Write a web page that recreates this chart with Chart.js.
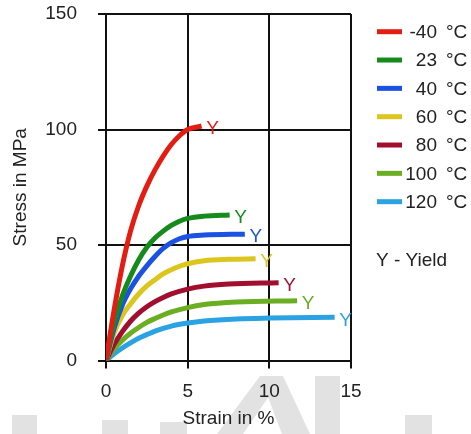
<!DOCTYPE html>
<html>
<head>
<meta charset="utf-8">
<script src="https://cdn.jsdelivr.net/npm/chart.js@4.4.1/dist/chart.umd.min.js"></script>
<style>
  body { margin: 0; background: #fff; }
  canvas { display: block; }
</style>
</head>
<body>
<canvas id="grafico" width="471" height="434"></canvas>
<script>
// Datos: deformación (%) y tensión (MPa) por temperatura
const temperaturas = ["-40", "23", "40", "60", "80", "100", "120"];
const colores = ["#e41d13", "#168a1c", "#1b52e2", "#dcc51c", "#a20f2e", "#6cae22", "#2ba2e2"];

const strainM40 = [0, 0.5, 1.0, 1.5, 2.0, 2.5, 3.0, 3.5, 4.0, 4.5, 5.0, 5.85];
const stressM40 = [0, 22, 41, 56, 67, 75.5, 82.5, 88.5, 93.5, 97.3, 100, 101.5];

const strain23 = [0, 0.5, 1.0, 1.5, 2.0, 2.5, 3.0, 3.5, 4.0, 4.5, 5.0, 6.0, 7.57];
const stress23 = [0, 16.5, 28, 36.5, 43.5, 49, 53, 56, 58.5, 60.3, 61.5, 62.5, 63];

const strain40 = [0, 0.5, 1.0, 1.5, 2.0, 2.5, 3.0, 3.5, 4.0, 4.5, 5.0, 6.0, 8.5];
const stress40 = [0, 14, 24, 31, 36.5, 41, 45, 48.5, 51, 52.7, 53.7, 54.3, 54.7];

const strain60 = [0, 0.5, 1.0, 1.5, 2.0, 2.5, 3.0, 3.5, 4.0, 4.5, 5.0, 6.0, 7.5, 9.16];
const stress60 = [0, 12, 19.5, 24.5, 28.8, 32.3, 35, 37.5, 39.3, 40.8, 41.9, 43.2, 43.8, 44];

const strain80 = [0, 0.5, 1.0, 1.5, 2.0, 2.5, 3.0, 3.5, 4.0, 5.0, 6.0, 7.5, 10.57];
const stress80 = [0, 7, 12.5, 17, 20.5, 23.3, 25.5, 27.3, 28.8, 30.9, 32.2, 33.1, 33.7];

const strain100 = [0, 0.5, 1.0, 1.5, 2.0, 2.5, 3.0, 3.5, 4.0, 5.0, 6.0, 8.0, 11.7];
const stress100 = [0, 5, 8.8, 11.8, 14.3, 16.5, 18.2, 19.7, 21, 22.9, 24.2, 25.3, 25.9];

const strain120 = [0, 0.5, 1.0, 1.5, 2.0, 2.5, 3.0, 3.5, 4.0, 5.0, 6.0, 8.0, 10, 14];
const stress120 = [0, 2.9, 5.4, 7.6, 9.6, 11.2, 12.7, 13.9, 14.9, 16.2, 17.1, 18, 18.35, 18.7];

const strainTicks = [0, 5, 10, 15];
const stressTicks = [0, 50, 100, 150];

const series = [
  [strainM40, stressM40],
  [strain23, stress23],
  [strain40, stress40],
  [strain60, stress60],
  [strain80, stress80],
  [strain100, stress100],
  [strain120, stress120],
];

const fuente = "'Liberation Sans', Arial, sans-serif";
const tamano = 19;

// Marca de agua gris de la imagen original (decorativa)
const marcaAgua = {
  id: "marcaAgua",
  beforeDraw(chart) {
    const ctx = chart.ctx;
    ctx.save();
    ctx.fillStyle = "#e2e2e2";
    ctx.fillRect(12, 415, 25, 19);
    ctx.fillRect(102, 420, 26, 14);
    ctx.fillRect(160, 422, 27, 12);
    ctx.fillRect(315, 376, 25, 58);
    ctx.fillRect(405, 415, 27, 19);
    ctx.beginPath();
    ctx.moveTo(260, 376); ctx.lineTo(283, 376); ctx.lineTo(243, 434); ctx.lineTo(217, 434);
    ctx.closePath(); ctx.fill();
    ctx.beginPath();
    ctx.moveTo(260, 376); ctx.lineTo(283, 376); ctx.lineTo(310, 434); ctx.lineTo(282, 434);
    ctx.closePath(); ctx.fill();
    ctx.restore();
  },
};

// Letra "Y" (yield) al final de cada curva
const etiquetasYield = {
  id: "etiquetasYield",
  afterDatasetsDraw(chart) {
    const ctx = chart.ctx;
    const sx = chart.scales.x, sy = chart.scales.y;
    ctx.save();
    ctx.font = tamano + "px " + fuente;
    ctx.textAlign = "center";
    ctx.textBaseline = "middle";
    series.forEach(([xs, ys], i) => {
      const px = sx.getPixelForValue(xs[xs.length - 1]);
      const py = sy.getPixelForValue(ys[ys.length - 1]);
      ctx.fillStyle = colores[i];
      ctx.fillText("Y", px + 11, py + 3);
    });
    ctx.restore();
  },
};

// Leyenda a la derecha
const leyenda = {
  id: "leyenda",
  afterDraw(chart) {
    const ctx = chart.ctx;
    ctx.save();
    ctx.font = tamano + "px " + fuente;
    ctx.textBaseline = "middle";
    chart.data.datasets.forEach((ds, i) => {
      const y = 31.7 + i * 28.33;
      ctx.strokeStyle = ds.borderColor;
      ctx.lineWidth = 5;
      ctx.beginPath();
      ctx.moveTo(377, y);
      ctx.lineTo(402, y);
      ctx.stroke();
      ctx.fillStyle = "#222";
      ctx.textAlign = "right";
      ctx.fillText(temperaturas[i], 437, y + 1);
      ctx.textAlign = "left";
      ctx.fillText("°C", 446, y + 1);
    });
    ctx.textAlign = "left";
    ctx.fillText("Y - Yield", 376, 261);
    ctx.restore();
  },
};

new Chart(document.getElementById("grafico"), {
  type: "scatter",
  data: {
    datasets: series.map(([xs, ys], i) => ({
      label: temperaturas[i] + " °C",
      data: xs.map((x, j) => ({ x: x, y: ys[j] })),
      showLine: true,
      borderColor: colores[i],
      backgroundColor: colores[i],
      borderWidth: 5,
      pointRadius: 0,
      cubicInterpolationMode: "monotone",
    })),
  },
  options: {
    responsive: false,
    animation: false,
    devicePixelRatio: 1,
    layout: { padding: { left: 0, right: 120, top: 14, bottom: 0 } },
    plugins: {
      legend: { display: false },
      tooltip: { enabled: false },
    },
    scales: {
      x: {
        type: "linear",
        min: 0,
        max: 15,
        afterBuildTicks: (s) => { s.ticks = strainTicks.map((v) => ({ value: v })); },
        afterFit: (s) => { s.height = 73.5; s.paddingLeft = 0; s.paddingRight = 0; },
        ticks: { font: { family: fuente, size: tamano }, color: "#222", padding: 12 },
        grid: { color: "#111", lineWidth: 2, tickLength: 8 },
        border: { color: "#111", width: 2 },
        title: {
          display: true,
          text: "Strain in %",
          color: "#222",
          font: { family: fuente, size: tamano },
          padding: { top: 0, bottom: 4 },
        },
      },
      y: {
        min: 0,
        max: 150,
        afterBuildTicks: (s) => { s.ticks = stressTicks.map((v) => ({ value: v })); },
        afterFit: (s) => { s.width = 106; s.paddingTop = 0; s.paddingBottom = 0; },
        ticks: { font: { family: fuente, size: tamano }, color: "#222", padding: 21 },
        grid: { color: "#111", lineWidth: 2, tickLength: 8 },
        border: { color: "#111", width: 2 },
        title: {
          display: true,
          text: "Stress in MPa",
          color: "#222",
          font: { family: fuente, size: tamano },
          padding: { top: 9, bottom: 0 },
        },
      },
    },
  },
  plugins: [marcaAgua, etiquetasYield, leyenda],
});
</script>
</body>
</html>
